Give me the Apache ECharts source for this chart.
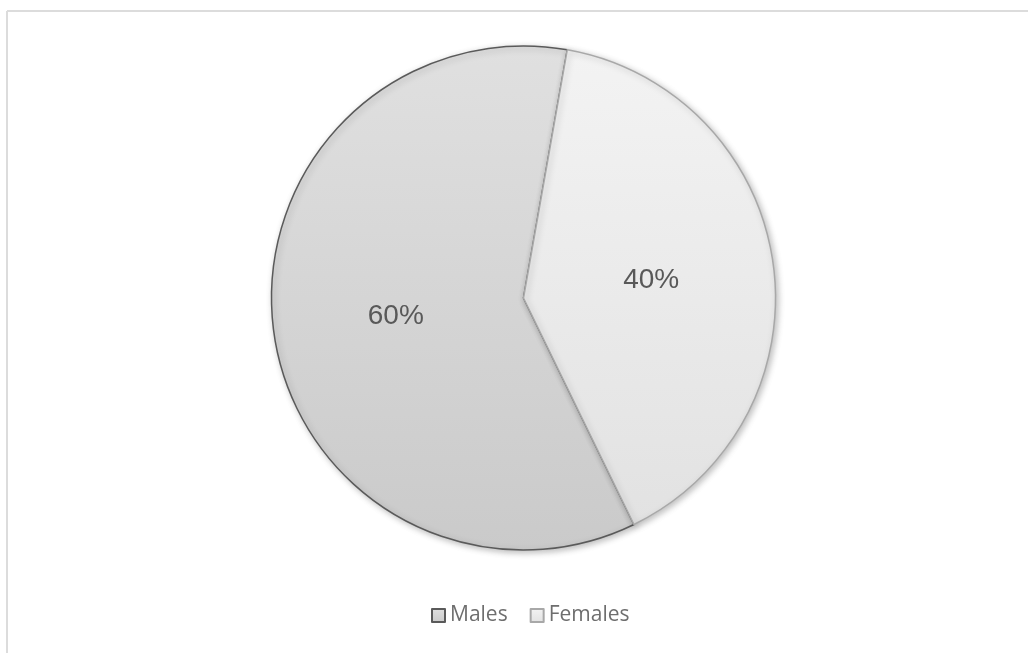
<!DOCTYPE html>
<html>
<head>
<meta charset="utf-8">
<style>
  html, body { margin: 0; padding: 0; background: #ffffff; }
  #chart { width: 1028px; height: 653px; }
</style>
<script src="https://cdn.jsdelivr.net/npm/echarts@6/dist/echarts.min.js"></script>
</head>
<body>
<div id="chart"></div>
<script>
// Gender split
const categories = ['Males', 'Females'];
const shares = [60, 40];

// Per-slice look: fill gradient (top → bottom) and outline colour
const sliceFill = [
  ['#e0e0e0', '#cacaca'],
  ['#f3f3f3', '#e2e2e2']
];
const sliceBorder = ['#5a5a5a', '#a8a8a8'];

const chart = echarts.init(document.getElementById('chart'), null, { renderer: 'canvas' });

const data = categories.map((name, i) => ({
  name,
  value: shares[i],
  itemStyle: {
    color: new echarts.graphic.LinearGradient(0, 0, 0, 1, [
      { offset: 0, color: sliceFill[i][0] },
      { offset: 1, color: sliceFill[i][1] }
    ]),
    borderColor: sliceBorder[i],
    borderWidth: 1.5,
    shadowBlur: 6,
    shadowOffsetX: 2,
    shadowOffsetY: 2,
    shadowColor: 'rgba(0,0,0,0.25)'
  }
}));

chart.setOption({
  backgroundColor: '#ffffff',
  animation: false,
  graphic: [
    // chart-area frame: top and left edges
    { type: 'line', shape: { x1: 7, y1: 11, x2: 1028, y2: 11 },
      style: { stroke: '#dcdcdc', lineWidth: 2 } },
    { type: 'line', shape: { x1: 7, y1: 11, x2: 7, y2: 653 },
      style: { stroke: '#dcdcdc', lineWidth: 2 } }
  ],
  legend: {
    data: categories,
    bottom: 22,
    left: 426,
    icon: 'rect',
    itemWidth: 13,
    itemHeight: 13,
    itemGap: 22,
    textStyle: {
      color: '#6e6e6e',
      fontSize: 21,
      fontFamily: 'Open Sans'
    }
  },
  series: [{
    type: 'pie',
    center: [523.5, 298],
    radius: [0, 252],
    startAngle: -64,
    clockwise: true,
    data,
    label: {
      show: true,
      position: 'inside',
      formatter: p => p.value + '%',
      color: '#595959',
      fontSize: 28,
      fontFamily: 'Liberation Sans'
    },
    labelLine: { show: false },
    emphasis: { disabled: true }
  }]
});
</script>
</body>
</html>
